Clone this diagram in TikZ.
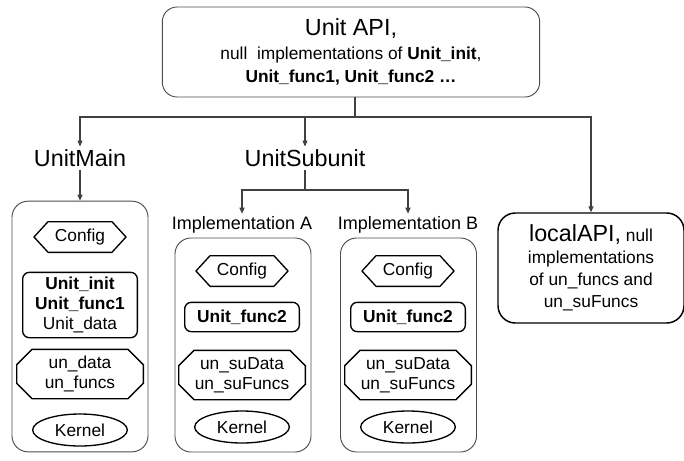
\documentclass[tikz,border=0pt]{standalone}
\usepackage{fontspec}
\setmainfont{Liberation Sans}
\usetikzlibrary{arrows.meta,shapes.geometric,shapes.misc,shapes.symbols}

\begin{document}
\begin{tikzpicture}[x=0.75pt,y=-0.75pt, >={Triangle[length=4.5pt,width=3.8pt]},
    apibox/.style ={draw=black!70, line width=0.7pt, rounded corners=11pt, align=center},
    localbox/.style ={draw=black, line width=1.1pt, rounded corners=13pt, align=center},
    container/.style ={draw=black!70, line width=0.7pt, rounded corners=12pt, minimum width=102pt},
    config/.style ={signal, signal to=west and east, signal pointer angle=95, draw, line width=1pt,
                    minimum width=69pt, minimum height=23pt, inner sep=1pt, font=\fontsize{13}{15}\selectfont},
    funcbox/.style ={draw, line width=1pt, rounded corners=5pt, minimum width=86pt, align=center,
                    inner sep=1pt, font=\fontsize{13}{15}\selectfont},
    databox/.style ={chamfered rectangle, chamfered rectangle xsep=8pt, draw, line width=1pt, align=center,
                    minimum width=95pt, minimum height=37pt, inner sep=1pt, font=\fontsize{13}{15}\selectfont},
    kernel/.style ={ellipse, draw, line width=1pt, minimum width=71pt, minimum height=24pt, inner sep=1pt,
                    font=\fontsize{13}{15}\selectfont},
    heading/.style ={font=\fontsize{17.5}{20}\selectfont, inner sep=2pt},
    sublabel/.style ={font=\fontsize{13.5}{15}\selectfont, inner sep=2pt},
    wire/.style ={draw=black!75, line width=0.8pt}]
   \useasboundingbox (0,0) rectangle (684,460);

   % top API box
   \node[apibox, minimum width=283pt, minimum height=67.5pt, font=\fontsize{13}{17.5}\selectfont] (api) at (351,52)
      {{\fontsize{17.5}{20}\selectfont Unit API,}\\null\ \ implementations of \textbf{Unit\_init},\\\textbf{Unit\_func1, Unit\_func2 …}};

   \node[heading] (main) at (80,158) {UnitMain};
   \node[heading] (sub) at (305,158) {UnitSubunit};
   \node[sublabel] (labA) at (242,225) {Implementation A};
   \node[sublabel] (labB) at (408,225) {Implementation B};

   \node[localbox, minimum width=139.5pt, minimum height=82.5pt, font=\fontsize{13}{16.5}\selectfont] (local) at (591,268)
      {{\fontsize{17.5}{20}\selectfont localAPI,} null\\implementations\\of un\_funcs and\\un\_suFuncs};

   % containers
   \node[container, minimum height=188pt] (mainbox) at (80,326.5) {};
   \node[container, minimum height=160.5pt] (boxA) at (243,345) {};
   \node[container, minimum height=160.5pt] (boxB) at (408.5,345) {};

   % UnitMain
   \node[config] (cfgM) at (80,237) {Config};
   \node[funcbox, minimum height=49pt] (funcM) at (80,305) {\textbf{Unit\_init}\\\textbf{Unit\_func1}\\Unit\_data};
   \node[databox] (dataM) at (80,374) {un\_data\\un\_funcs};
   \node[kernel] (kerM) at (80,430) {Kernel};

   % Implementation A
   \node[config] (cfgA) at (242,271) {Config};
   \node[funcbox, minimum height=22pt] (funcA) at (242,317) {\textbf{Unit\_func2}};
   \node[databox] (dataA) at (242,375) {un\_suData\\un\_suFuncs};
   \node[kernel] (kerA) at (242,427) {Kernel};

   % Implementation B
   \node[config] (cfgB) at (408,271) {Config};
   \node[funcbox, minimum height=22pt] (funcB) at (408,317) {\textbf{Unit\_func2}};
   \node[databox] (dataB) at (408,375) {un\_suData\\un\_suFuncs};
   \node[kernel] (kerB) at (408,427) {Kernel};

   \coordinate (split) at (355,117);
   \coordinate (subsplit) at (305,190);

   \draw[wire] (api.south -| split) to (split);
   \draw[wire,->] (split) -| (main);
   \draw[wire,->] (split) -| (sub);
   \draw[wire,->] (split) -| (local);
   \draw[wire,->] (main) to (mainbox);
   \draw[wire] (sub) to (subsplit);
   \draw[wire,->] (subsplit) -| (labA);
   \draw[wire,->] (subsplit) -| (labB);

\end{tikzpicture}
\end{document}
